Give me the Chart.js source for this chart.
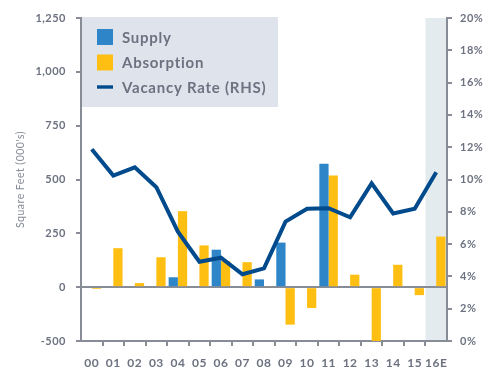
<!DOCTYPE html>
<html>
<head>
<meta charset="utf-8">
<script src="https://cdn.jsdelivr.net/npm/chart.js@4/dist/chart.umd.min.js"></script>
<style>
  html, body { margin: 0; padding: 0; background: #ffffff; }
  #wrap { width: 497px; height: 371px; }
</style>
</head>
<body>
<div id="wrap"><canvas id="c" width="497" height="371"></canvas></div>
<script>
// Annual market figures, square feet in thousands and vacancy in percent
const years = ['00', '01', '02', '03', '04', '05', '06', '07', '08', '09', '10', '11', '12', '13', '14', '15', '16E'];
const supply = [null, null, null, null, 46, null, 174, null, 36, 207, null, 573, null, null, null, null, null];
const absorption = [-8, 181, 19, 139, 353, 194, 121, 116, 4, -174, -97, 519, 58, -250, 104, -37, 235];
const vacancyRate = [11.87, 10.24, 10.75, 9.52, 6.77, 4.91, 5.16, 4.13, 4.5, 7.39, 8.19, 8.22, 7.66, 9.76, 7.9, 8.19, 10.45];
const leftTickLabels = ['-500', '0', '250', '500', '750', '1,000', '1,250'];
const forecastYear = '16E';

const GREY = '#6d7280';
const AXIS = '#878c96';
const COLORS = { supply: '#2e86c8', absorption: '#ffbf12', vacancy: '#014a8c' };

// Shaded forecast column behind everything; also sets the text tracking
const forecastShade = {
  id: 'forecastShade',
  beforeDraw(chart) {
    const { ctx, chartArea: a, scales: { x } } = chart;
    ctx.letterSpacing = '0.5px';
    const i = years.indexOf(forecastYear);
    const half = (x.getPixelForValue(1) - x.getPixelForValue(0)) / 2;
    ctx.save();
    ctx.fillStyle = '#e3ebee';
    ctx.fillRect(x.getPixelForValue(i) - half, a.top, half * 2, a.bottom - a.top);
    ctx.restore();
  }
};

// Legend panel in the upper-left corner of the plot
const legendPanel = {
  id: 'legendPanel',
  beforeDatasetsDraw(chart) {
    const { ctx, chartArea: a } = chart;
    ctx.save();
    ctx.fillStyle = '#dfe3eb';
    ctx.fillRect(a.left + 1, a.top - 1, 196, 90);
    const rows = [37, 62.5, 87];
    chart.data.datasets.forEach((ds, k) => {
      const cy = rows[k];
      ctx.fillStyle = ds.legendColor;
      if (ds.type === 'line') {
        ctx.fillRect(a.left + 16, cy - 1.7, 16, 3.4);
      } else {
        ctx.fillRect(a.left + 16, cy - 8, 16, 16);
      }
      ctx.fillStyle = GREY;
      ctx.font = 'bold 15px Lato';
      ctx.letterSpacing = '0.75px';
      ctx.textBaseline = 'alphabetic';
      ctx.textAlign = 'left';
      ctx.fillText(ds.label, a.left + 41, cy + 5.5);
    });
    ctx.restore();
  }
};

const tickFont = { family: 'Lato', size: 11, weight: 'bold' };

new Chart(document.getElementById('c'), {
  data: {
    labels: years,
    datasets: [
      { type: 'bar', label: 'Supply', data: supply, backgroundColor: COLORS.supply, legendColor: COLORS.supply, yAxisID: 'y', order: 1,
        categoryPercentage: 0.86, barPercentage: 1.0 },
      { type: 'bar', label: 'Absorption', data: absorption, backgroundColor: COLORS.absorption, legendColor: COLORS.absorption, yAxisID: 'y', order: 1,
        categoryPercentage: 0.86, barPercentage: 1.0 },
      { type: 'line', label: 'Vacancy Rate (RHS)', data: vacancyRate, borderColor: COLORS.vacancy, legendColor: COLORS.vacancy, yAxisID: 'y1', order: 0,
        borderWidth: 4, pointRadius: 0, tension: 0, fill: false, borderJoinStyle: 'miter' }
    ]
  },
  options: {
    responsive: false,
    animation: false,
    layout: { padding: { top: 18, left: 0, right: 0, bottom: 0 } },
    plugins: { legend: { display: false }, tooltip: { enabled: false } },
    scales: {
      x: {
        afterFit(s) { s.height = 30; },
        border: { color: AXIS, width: 2 },
        grid: {
          drawOnChartArea: false, tickLength: 5, lineWidth: 2,
          tickColor: (c) => (c.type !== 'tick' || c.index === 0) ? 'rgba(0,0,0,0)' : AXIS
        },
        ticks: { color: GREY, font: { family: 'Lato', size: 12, weight: 'bold' }, padding: 10, maxRotation: 0, autoSkip: false }
      },
      y: {
        position: 'left',
        min: -250, max: 1250,
        afterFit(s) { s.width = 81; },
        border: { color: AXIS, width: 2 },
        grid: {
          drawOnChartArea: true, tickLength: 5, tickColor: AXIS, tickWidth: 2,
          color: (c) => (c.tick && c.tick.value === 0) ? AXIS : 'rgba(0,0,0,0)',
          lineWidth: 2
        },
        ticks: { stepSize: 250, color: GREY, font: tickFont, padding: 10,
          callback: (v, i) => leftTickLabels[i] },
        title: { display: true, text: "Square Feet (000's)", color: '#858a96',
          font: { family: 'Lato', size: 10.5, weight: 'normal' }, padding: { top: 14, bottom: 0 } }
      },
      y1: {
        position: 'right',
        min: 0, max: 20,
        afterFit(s) { s.width = 50; },
        border: { color: AXIS, width: 2 },
        grid: { drawOnChartArea: false, tickLength: 5, color: AXIS, lineWidth: 2 },
        ticks: { stepSize: 2, color: GREY, font: tickFont, padding: 8, callback: (v) => v + '%' }
      }
    }
  },
  plugins: [forecastShade, legendPanel]
});
</script>
</body>
</html>
